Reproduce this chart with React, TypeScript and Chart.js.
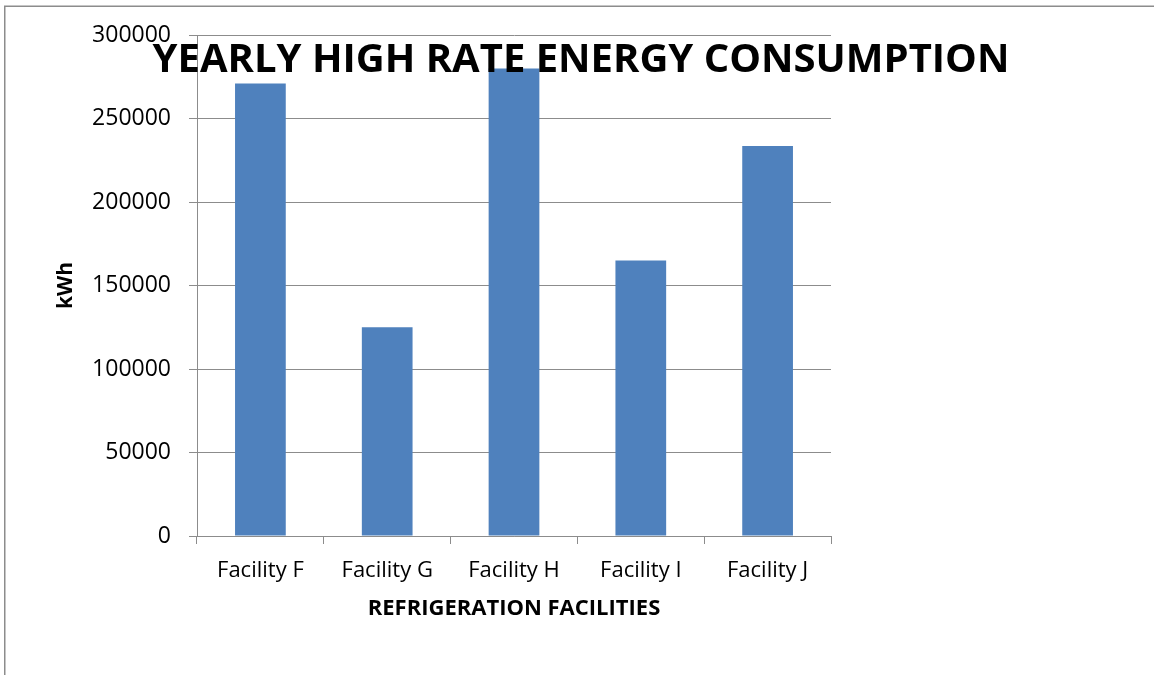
import React, { useEffect, useRef } from "react";
import { Chart, registerables } from "chart.js";

Chart.register(...registerables);

const categories = ["Facility F", "Facility G", "Facility H", "Facility I", "Facility J"];
const consumption = [271000, 125000, 280000, 165000, 233500];
const chartTitle = "YEARLY HIGH RATE ENERGY CONSUMPTION";
const xTitle = "REFRIGERATION FACILITIES";
const yTitle = "kWh";

const FONT = "'Open Sans', sans-serif";
const GRID = "#8c8c8c";

const overlayPlugin = {
  id: "overlay",
  beforeDraw(chart: any) {
    const ctx = chart.ctx;
    ctx.save();
    ctx.strokeStyle = "#8c8c8c";
    ctx.lineWidth = 1.5;
    ctx.beginPath();
    ctx.moveTo(4.75, chart.height);
    ctx.lineTo(4.75, 6.25);
    ctx.lineTo(chart.width, 6.25);
    ctx.stroke();
    ctx.restore();
  },
  afterDraw(chart: any) {
    const ctx = chart.ctx;
    ctx.save();
    ctx.font = `bold 40px ${FONT}`;
    ctx.fillStyle = "#000";
    ctx.textAlign = "center";
    ctx.textBaseline = "alphabetic";
    ctx.fillText(chartTitle, 581, 72);
    ctx.restore();
  },
};

export default function App() {
  const ref = useRef<HTMLCanvasElement>(null);
  useEffect(() => {
    document.body.style.margin = "0";
    const chart = new Chart(ref.current!, {
      type: "bar",
      data: {
        labels: categories,
        datasets: [
          {
            data: consumption,
            backgroundColor: "#4F81BD",
            barPercentage: 0.4,
            categoryPercentage: 1,
          },
        ],
      },
      options: {
        animation: false,
        responsive: false,
        layout: { padding: { top: 35, right: 323, left: 0, bottom: 0 } },
        plugins: { legend: { display: false }, title: { display: false }, tooltip: { enabled: false } },
        scales: {
          x: {
            afterFit: (s: any) => { s.height = 139; },
            grid: { drawOnChartArea: false, drawTicks: true, tickLength: 8, color: GRID, offset: true },
            border: { color: GRID, width: 1 },
            ticks: { color: "#000", font: { family: FONT, size: 22 }, padding: 14 },
            title: {
              display: true,
              text: xTitle,
              color: "#000",
              font: { family: FONT, size: 22, weight: "bold" },
              padding: { top: 0, bottom: 53 },
            },
          },
          y: {
            min: 0,
            max: 300000,
            afterFit: (s: any) => { s.width = 197; },
            grid: { color: GRID, tickLength: 8, drawTicks: true },
            border: { color: GRID, width: 1 },
            ticks: {
              stepSize: 50000,
              color: "#000",
              font: { family: FONT, size: 23 },
              padding: 18,
              callback: (v: any) => String(v),
            },
            title: {
              display: true,
              text: yTitle,
              color: "#000",
              font: { family: FONT, size: 21, weight: "bold" },
              padding: { top: 53, bottom: 0 },
            },
          },
        },
      },
      plugins: [overlayPlugin],
    });
    return () => chart.destroy();
  }, []);
  return (
    <div style={{ width: 1154, height: 675 }}>
      <canvas ref={ref} width={1154} height={675} />
    </div>
  );
}
